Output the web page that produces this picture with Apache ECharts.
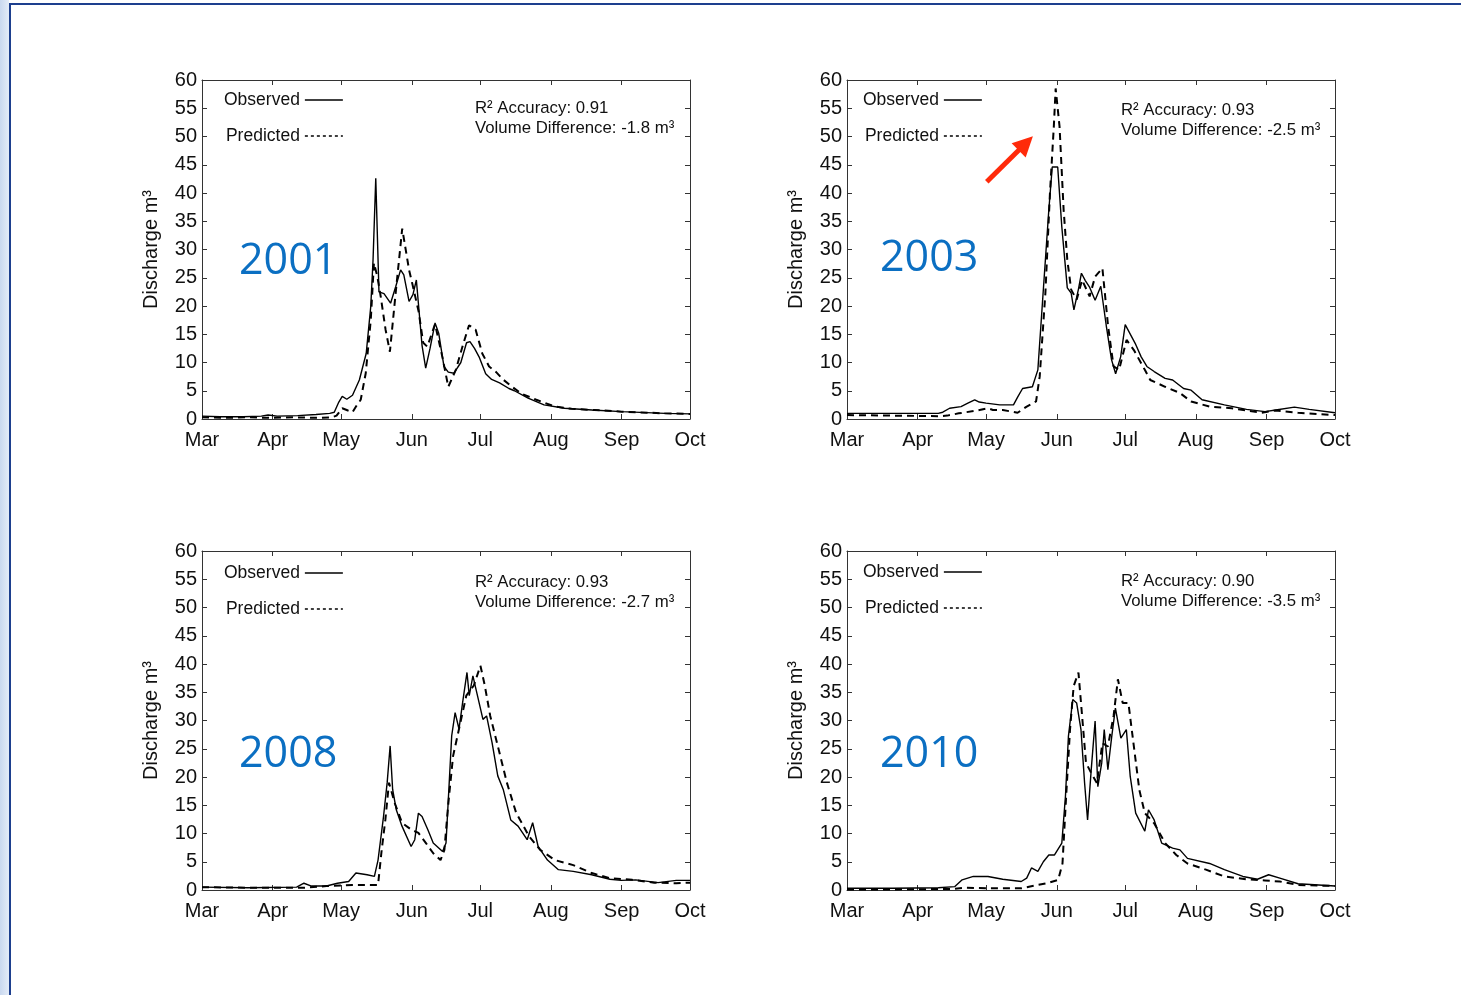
<!DOCTYPE html>
<html>
<head>
<meta charset="utf-8">
<script src="https://cdn.jsdelivr.net/npm/echarts@6/dist/echarts.min.js"></script>
<style>
  html, body { margin:0; padding:0; width:1461px; height:995px; overflow:hidden; }
  body { background: linear-gradient(to right, #c9d8ef 0px, #e4ecf8 9px, #ffffff 9px); }
  #frame { position:absolute; left:9px; top:3px; right:0; bottom:0; background:#fff;
           border-top:2px solid #1d3f8e; border-left:2px solid #1d3f8e; }
  #chart { position:absolute; left:0; top:0; width:1461px; height:995px; }
</style>
</head>
<body>
<div id="frame"></div>
<div id="chart"></div>
<script>
// ---------------- DATA ----------------
const monthTicks  = [0, 31, 61, 92, 122, 153, 184, 214];   // days since 1 March
const monthLabels = ['Mar', 'Apr', 'May', 'Jun', 'Jul', 'Aug', 'Sep', 'Oct'];
const yMin = 0, yMax = 60, yStep = 5;
const years      = ['2001', '2003', '2008', '2010'];
const r2Values   = [0.91, 0.93, 0.93, 0.90];
const volumeDiff = [-1.8, -2.5, -2.7, -3.5];

// [day since 1 March, discharge]
const obs2001 = [[0,0.5],[8,0.4],[18,0.4],[26,0.5],[29,0.7],[33,0.5],[42,0.6],[50,0.8],[56,1.0],[58,1.2],[60,3.0],[61.5,4.0],[63.5,3.5],[66,4.2],[69,6.9],[72,11.6],[74,19.9],[75,28.1],[76.2,42.6],[77.6,22.5],[79.8,22.2],[82.7,20.5],[85,23.5],[87.1,26.4],[88.5,25.5],[90.8,20.8],[92.5,22],[94,24.6],[96.5,13],[98.1,9.0],[100,12.5],[102.2,17.0],[103.8,15.2],[106.1,9.3],[108,8.3],[110.5,8.1],[113.5,10],[116,13.5],[117.5,13.7],[119.5,12.5],[121.5,11.0],[124.4,8.0],[127,7.0],[130.5,6.4],[134.6,5.4],[137,5.0],[143,3.7],[150,2.5],[159,1.9],[171,1.6],[184,1.3],[203,1.0],[214,0.9]];
const pred2001 = [[0,0.3],[10,0.2],[20,0.3],[30,0.2],[40,0.3],[50,0.2],[57,0.3],[59,0.6],[61.5,1.9],[64,1.5],[66,1.2],[68,2.5],[69.6,3.4],[71.8,8.1],[74,17.5],[75.4,27.6],[76.9,25.2],[78.4,21.6],[80.5,15.8],[82.4,11.9],[84.9,22.2],[87.8,33.7],[90.8,26.4],[92.2,24.0],[95,19],[97,13.5],[98.8,12.8],[102.2,16.8],[105.4,11.0],[108,5.7],[111.3,8.7],[114.2,12.8],[117.1,16.6],[120,15.8],[122.9,11.6],[125.9,9.3],[129,8.3],[132,7.0],[135,6.0],[140,4.5],[146.6,3.4],[154.7,2.2],[162,1.8],[172,1.6],[184,1.3],[203,1.0],[214,0.9]];
const obs2003 = [[0,1.0],[20,1.0],[40,1.0],[42,1.2],[45,1.9],[50,2.2],[53,2.8],[56,3.4],[58,3.0],[61,2.8],[67,2.5],[73,2.5],[75,4],[77,5.4],[81.3,5.7],[83.7,8.7],[86,22.3],[88.5,37],[90,44.6],[92.4,44.6],[94.2,34],[96.6,23.2],[98.3,22.3],[99.5,19.3],[101.5,23],[102.8,25.8],[104.5,24.5],[106.3,23.4],[108.8,21],[111.3,23.5],[113.7,16.5],[116,10.5],[117.8,8.0],[120,11],[122,16.7],[126.6,13.2],[129,11],[131.5,9.3],[134.7,8.4],[139.5,7.2],[142.8,6.9],[147.6,5.4],[150.9,5.1],[155.7,3.4],[165.5,2.5],[175.2,1.7],[183.3,1.3],[188,1.6],[196.2,2.1],[202.7,1.7],[214,1.1]];
const pred2003 = [[0,0.7],[20,0.6],[40,0.5],[44,0.6],[49,1.0],[57,1.5],[61.8,1.9],[64,1.6],[68.3,1.6],[74.8,1.1],[78.8,2.2],[82.9,3.1],[84.5,7.5],[87,22.3],[89,40],[90.7,51.8],[91.5,58.5],[93.2,51.8],[95,37],[96.6,28.2],[98.3,22.9],[100.7,21.1],[103.1,24.6],[106.4,21.7],[108.8,25.2],[112,26.7],[114.5,16.4],[116.9,9.3],[119.3,8.7],[122.6,14],[125.8,12.2],[130.6,8.7],[133,6.9],[139.5,5.7],[146,4.6],[150.9,3.1],[159,2.2],[168.7,1.9],[181.6,1.1],[188,1.5],[197.8,1.1],[214,0.7]];
const obs2008 = [[0,0.5],[20,0.4],[41.5,0.5],[44.7,1.2],[48,0.7],[54.6,0.7],[59.4,1.2],[64.3,1.5],[67.5,3.0],[72.4,2.7],[75.6,2.4],[77.2,5.3],[79.6,13],[81.2,19],[82.5,25.5],[83.6,17.8],[85.2,14.2],[87.7,11.3],[91.7,7.7],[93.3,8.9],[94.9,13.6],[96.5,13],[99,10.7],[101.4,8.3],[105.5,6.8],[107,8.3],[109.5,27.3],[111,31.4],[112.7,28.5],[114.3,33.2],[116.2,38.5],[117.2,34.4],[118.8,37.9],[120.8,34.4],[123.2,30.2],[124.8,30.8],[127.2,26.1],[129.7,20.2],[132.1,17.8],[135.4,12.4],[138.6,11.3],[142.6,8.9],[145,11.9],[147.4,7.7],[151.5,5.3],[156.3,3.6],[162.8,3.3],[170.9,2.7],[178.9,1.9],[183.8,1.7],[190.2,1.8],[200,1.3],[208,1.7],[214,1.7]];
const pred2008 = [[0,0.5],[20,0.4],[45,0.4],[54.6,0.7],[65.9,0.9],[77.2,0.9],[78.8,7.1],[80.4,12.4],[82,19],[84.5,15.4],[87.7,11.9],[91.7,10.7],[94.9,10.1],[98.2,8.3],[101.4,6.5],[104.6,5.3],[106.3,7.1],[107.9,14.8],[110.1,23.7],[112.7,28.5],[115.9,34.4],[119.2,36.2],[122.1,39.7],[124,36.2],[126.4,30.8],[129.7,25.5],[133.7,19],[137.8,13.6],[140.2,11.9],[143.4,9.5],[148.3,7.1],[154.7,5.3],[162.8,4.4],[170.9,3.0],[178.9,2.1],[188.6,1.8],[198.3,1.3],[208,1.2],[214,1.3]];
const obs2010 = [[0,0.3],[20,0.3],[40,0.4],[47.3,0.6],[50.5,1.8],[55.4,2.4],[61.8,2.4],[68.3,1.9],[76.4,1.5],[78.8,2.1],[80.9,3.9],[83.7,3.3],[86.1,5.0],[88.5,6.2],[91,6.2],[94.2,8.3],[95.8,16.6],[97.1,27.2],[99,33.7],[100.7,33.1],[102.6,28.4],[104.2,18.9],[105.5,12.4],[107.1,21.3],[108.8,29.9],[110,18.3],[111.7,22.5],[112.8,28.4],[114.4,21.3],[116.1,27.2],[117.7,32.2],[120.1,26.9],[122.5,28.4],[124.2,20.1],[126.6,13.6],[130.6,10.4],[132.2,14.2],[134.7,12.4],[138,8.3],[142.8,7.4],[146,7.1],[149.3,5.6],[159,4.7],[165.5,3.6],[173.6,2.4],[180,1.9],[184.9,2.7],[189.8,2.1],[197.8,1.1],[214,0.7]];
const pred2010 = [[0,0.1],[20,0.1],[47,0.2],[52.1,0.4],[62,0.3],[76.4,0.3],[81.3,0.7],[87.7,1.2],[92.6,1.8],[94.5,4.7],[96.1,16.6],[97.8,28.4],[99.4,36.1],[101.5,38.5],[103.1,30.8],[104.8,22.5],[107.1,20.7],[109.6,18.9],[112,26],[114.4,25.4],[116.9,30.8],[118.8,37.3],[120.9,33.1],[123.4,33.1],[125.8,25.4],[128.2,17.7],[130.6,13.6],[134.7,11.8],[139.5,8.3],[144.4,6.2],[149.3,4.7],[157.4,3.6],[165.5,2.4],[175.2,1.9],[183.3,1.7],[189.8,1.5],[197.8,0.9],[214,0.7]];

const observed  = [obs2001, obs2003, obs2008, obs2010];
const predicted = [pred2001, pred2003, pred2008, pred2010];
// arrow annotation on 2003 panel: [day, value] tail and head
const arrowTail = [61.3, 42];
const arrowHead = [78.4, 48.8];

// ---------------- LAYOUT ----------------
const FONT = '"Liberation Sans", Arial, Helvetica, sans-serif';
const gridPos = [{left:202, top:80}, {left:847, top:80}, {left:202, top:551}, {left:847, top:551}];
const GW = 488, GH = 339;
const legendOff = [[17, 6], [11, 6], [17, 8], [11, 7]];
const annOff = [[273, 18], [274, 20], [273, 21], [274, 20]];
const yearOff = [[37, 182], [33, 179], [37, 204], [33, 204]];

const axisColor = '#333';
const grid = [], xAxis = [], yAxis = [], series = [], legend = [], graphic = [];

gridPos.forEach((g, i) => {
  grid.push({ left: g.left, top: g.top, width: GW, height: GH, containLabel: false });
  const baseX = {
    type: 'value', gridIndex: i, min: monthTicks[0], max: monthTicks[monthTicks.length - 1],
    splitLine: { show: false },
    axisLine: { show: true, onZero: false, lineStyle: { color: axisColor, width: 1 } },
    axisTick: { show: true, inside: true, length: 5, customValues: monthTicks, lineStyle: { color: axisColor } }
  };
  xAxis.push(Object.assign({}, baseX, {
    position: 'bottom',
    axisLabel: { show: true, customValues: monthTicks, margin: 11, fontSize: 20, color: '#111', fontFamily: FONT,
      formatter: v => monthLabels[monthTicks.indexOf(v)] }
  }));
  xAxis.push(Object.assign({}, baseX, { position: 'top', axisLabel: { show: false } }));
  const baseY = {
    type: 'value', gridIndex: i, min: yMin, max: yMax, interval: yStep,
    splitLine: { show: false },
    axisLine: { show: true, onZero: false, lineStyle: { color: axisColor, width: 1 } },
    axisTick: { show: true, inside: true, length: 5, lineStyle: { color: axisColor } }
  };
  yAxis.push(Object.assign({}, baseY, {
    position: 'left',
    name: 'Discharge m³', nameLocation: 'middle', nameRotate: 90, nameGap: 41,
    nameTextStyle: { fontSize: 20, color: '#111', fontFamily: FONT },
    axisLabel: { show: true, margin: 5, fontSize: 20, color: '#111', fontFamily: FONT }
  }));
  yAxis.push(Object.assign({}, baseY, { position: 'right', axisLabel: { show: false } }));

  series.push({
    name: 'Observed', type: 'line', xAxisIndex: 2 * i, yAxisIndex: 2 * i,
    data: observed[i], symbol: 'none', showSymbol: false, silent: true, z: 3,
    lineStyle: { color: '#000', width: 1.4, type: 'solid' }, itemStyle: { color: '#000' }
  });
  const pred = {
    name: 'Predicted', type: 'line', xAxisIndex: 2 * i, yAxisIndex: 2 * i,
    data: predicted[i], symbol: 'none', showSymbol: false, silent: true, z: 2,
    lineStyle: { color: '#000', width: 2, type: [7, 5] }, itemStyle: { color: '#000' }
  };
  if (i === 1) {
    pred.markLine = {
      silent: true, symbol: ['none', 'triangle'], symbolSize: [20, 20],
      label: { show: false }, emphasis: { disabled: true },
      lineStyle: { color: '#ff2a0a', width: 5, type: 'solid' },
      data: [[{ coord: arrowTail }, { coord: arrowHead }]]
    };
  }
  series.push(pred);

  legend.push({
    orient: 'vertical', align: 'right', left: g.left + legendOff[i][0], top: g.top + legendOff[i][1],
    itemWidth: 38, itemHeight: 18, itemGap: 18, selectedMode: false,
    textStyle: { fontSize: 17.5, color: '#111', fontFamily: FONT },
    data: [
      { name: 'Observed', lineStyle: { width: 1.4, type: 'solid' }, itemStyle: { opacity: 0 } },
      { name: 'Predicted', lineStyle: { width: 1.4, type: [3, 3] }, itemStyle: { opacity: 0 } }
    ]
  });

  graphic.push({
    type: 'text', x: g.left + annOff[i][0], y: g.top + annOff[i][1],
    style: {
      text: 'R² Accuracy: ' + r2Values[i].toFixed(2) + '\nVolume Difference: ' + volumeDiff[i].toFixed(1) + ' m³',
      fontSize: 16.8, lineHeight: 20, fontFamily: FONT, fill: '#111'
    }
  });
  graphic.push({
    type: 'text', x: g.left + yearOff[i][0], y: g.top + yearOff[i][1],
    style: {
      text: years[i], fontSize: 43, fontFamily: '"Open Sans", "Noto Sans", sans-serif', fill: '#0b6fc2',
      verticalAlign: 'middle', align: 'left'
    }
  });
});

const chart = echarts.init(document.getElementById('chart'), null, { renderer: 'canvas' });
chart.setOption({
  backgroundColor: 'transparent',
  animation: false,
  grid, xAxis, yAxis, series, legend, graphic
});
</script>
</body>
</html>
